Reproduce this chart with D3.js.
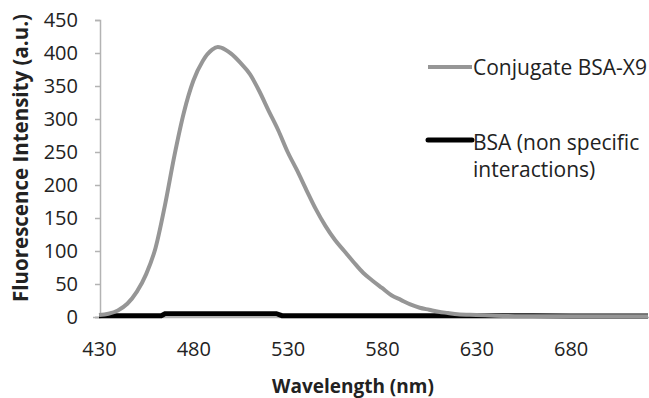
<!DOCTYPE html>
<html><head><meta charset="utf-8">
<script src="https://cdn.jsdelivr.net/npm/d3@7"></script>
<style>
html,body{margin:0;padding:0;background:#fff;}
svg{display:block;font-family:"Open Sans", sans-serif;}
</style></head>
<body>
<svg id="chart" width="649" height="398"></svg>
<script>
// Wavelengths (nm) and intensities for the conjugate
const conjWavelengths = [430,435,440,445,450,455,460,465,470,475,480,485,490,493,497,500,505,510,515,520,525,530,535,540,545,550,555,560,565,570,575,580,585,590,595,600,605,610,615,620,630,640,660,680,700,721];
const conjValues      = [3,5,10,20,38,65,105,170,245,310,358,388,405,409,405,399,385,368,342,312,283,250,222,192,163,138,117,100,83,67,55,44,33,26,19,14,11,8,6,4,3,2,1,1,1,1];
// BSA (non specific interactions)
const bsaWavelengths = [430,440,450,460,463,465,480,500,520,524,527,540,560,580,600,620,640,660,680,700,721];
const bsaValues      = [2,2,2,2,2,5,5,5,5,5,2,2,2,2,2,2,2,2,1.5,1.5,1.5];
const seriesNames = ["Conjugate BSA-X9", "BSA (non specific", "interactions)"];
const xTicks = [430,480,530,580,630,680];
const yTicks = [0,50,100,150,200,250,300,350,400,450];

const svg = d3.select("#chart");
const x = d3.scaleLinear().domain([430,721]).range([99,648]);
const y = d3.scaleLinear().domain([0,450]).range([317,20]);
const axisColor = "#b3b3b3";
const font = "'Open Sans', sans-serif";

// Y axis
const yAxis = svg.append("g").attr("transform","translate(100,0)")
  .call(d3.axisLeft(y).tickValues(yTicks).tickSize(5).tickPadding(17));
yAxis.selectAll("path,line").attr("stroke",axisColor).attr("stroke-width",1.5);
yAxis.selectAll("text").attr("font-size",20).attr("fill","#222").attr("font-family",font);

// X axis
const xAxis = svg.append("g").attr("transform","translate(0,317)")
  .call(d3.axisBottom(x).tickValues(xTicks).tickSize(0).tickPadding(25).tickSizeOuter(0));
xAxis.select("path").attr("stroke",axisColor).attr("stroke-width",1.5).attr("d","M93,0.5H649");
xAxis.selectAll("text").attr("font-size",20).attr("fill","#222").attr("font-family",font);

// Lines
const conjData = conjWavelengths.map((w,i)=>[w,conjValues[i]]);
const bsaData = bsaWavelengths.map((w,i)=>[w,bsaValues[i]]);
const line = d3.line().x(d=>x(d[0])).y(d=>y(d[1])).curve(d3.curveMonotoneX);
const lineStep = d3.line().x(d=>x(d[0])).y(d=>y(d[1]));

svg.append("path").datum(bsaData).attr("d",lineStep)
  .attr("fill","none").attr("stroke","#000").attr("stroke-width",5);
svg.append("path").datum(conjData).attr("d",line)
  .attr("fill","none").attr("stroke","#969696").attr("stroke-width",4).attr("stroke-linejoin","round");

// Axis titles
svg.append("text").attr("transform","translate(28,158) rotate(-90)")
  .attr("text-anchor","middle").attr("font-size",20.5).attr("font-weight","bold").attr("fill","#222")
  .attr("font-family",font).text("Fluorescence Intensity (a.u.)");
svg.append("text").attr("x",353).attr("y",393).attr("text-anchor","middle")
  .attr("font-size",19).attr("font-weight","bold").attr("fill","#222").attr("font-family",font).text("Wavelength (nm)");

// Legend
svg.append("line").attr("x1",428).attr("x2",472).attr("y1",67).attr("y2",67)
  .attr("stroke","#969696").attr("stroke-width",4);
svg.append("text").attr("x",473).attr("y",75).attr("font-size",21).attr("fill","#222").attr("font-family",font).text(seriesNames[0]);
svg.append("line").attr("x1",428).attr("x2",472).attr("y1",140).attr("y2",140)
  .attr("stroke","#000").attr("stroke-width",5).attr("stroke-linecap","round");
svg.append("text").attr("x",473).attr("y",150).attr("font-size",21).attr("fill","#222").attr("font-family",font).text(seriesNames[1]);
svg.append("text").attr("x",473).attr("y",177).attr("font-size",21).attr("fill","#222").attr("font-family",font).text(seriesNames[2]);
</script>
</body></html>
